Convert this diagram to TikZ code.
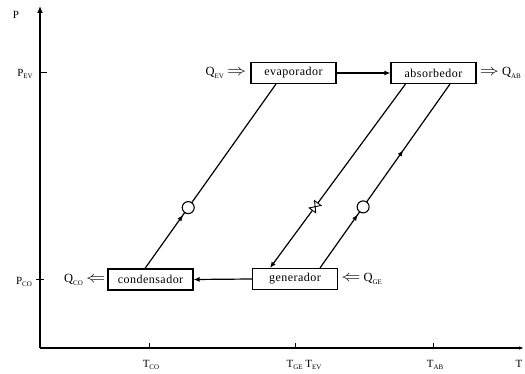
\documentclass[tikz,border=0pt]{standalone}
\usepackage{fontspec}
\setmainfont{Liberation Serif}
\usetikzlibrary{arrows.meta,decorations.markings,calc}
\newcommand{\lowsub}[1]{\raisebox{-0.5ex}{\fontsize{7}{7}\selectfont #1}}
\newcommand{\bigR}{\scalebox{1.6}[1.3]{$\Rightarrow$}}
\newcommand{\bigL}{\scalebox{1.6}[1.3]{$\Leftarrow$}}
\begin{document}
\begin{tikzpicture}[x=1pt,y=-1pt,
  comp/.style={draw, line width=1.1pt, minimum width=85pt, minimum height=21pt, inner sep=0pt,
    font=\fontsize{12}{13}\selectfont\addfontfeatures{LetterSpace=4}},
  flow/.style={line width=1.2pt},
  lbl/.style={inner sep=0pt, font=\fontsize{12.5}{13}\selectfont},
  axlbl/.style={inner sep=0pt, font=\fontsize{11}{12}\selectfont},
  pump/.style={circle, draw, fill=white, line width=1.1pt, minimum size=12pt, inner sep=0pt},
  tipA/.tip={Latex[length=6pt,width=5pt]}]
\useasboundingbox (0,0) rectangle (525,374);

% axes
\coordinate (O) at (40,348);
\coordinate (ytop) at (40,6);
\coordinate (xend) at (524,348);
\draw[line width=1.3pt, -{Latex[length=7pt,width=6pt]}] (O) -- (ytop);
\draw[line width=1.2pt, -{Latex[length=5pt,width=3.5pt]}] (O) -- (xend);
\draw[line width=1pt] (40,73) -- (47,73);
\draw[line width=1pt] (36,280) -- (44,280);
\draw[line width=0.8pt] (149,348) -- (149,343);
\draw[line width=0.8pt] (295,348) -- (295,343);
\draw[line width=0.8pt] (433,348) -- (433,343);

\node[axlbl] (lP) at (16,15) {P};
\node[axlbl] (lPEV) at (25,74) {P\lowsub{EV}};
\node[axlbl] (lPCO) at (24,282) {P\lowsub{CO}};
\node[axlbl] (lTCO) at (151,365) {T\lowsub{CO}};
\node[axlbl] (lTGE) at (304,365) {T\lowsub{GE} T\lowsub{EV}};
\node[axlbl] (lTAB) at (435,365) {T\lowsub{AB}};
\node[axlbl] (lT) at (519,364) {T};

% components
\node[comp] (evap) at (293.5,73) {evaporador};
\node[comp] (abs) at (433.5,73) {absorbedor};
\node[comp] (cond) at (150.5,279.5) {condensador};
\node[comp] (gen) at (295,279) {generador};

% heat flows
\node[lbl, anchor=east] (qev) at ($(evap.west)+(-4,0)$) {Q\lowsub{EV} \bigR};
\node[lbl, anchor=west] (qab) at ($(abs.east)+(3,0)$) {\bigR\ Q\lowsub{AB}};
\node[lbl, anchor=east] (qco) at ($(cond.west)+(-2,0)$) {Q\lowsub{CO} \bigL};
\node[lbl, anchor=west] (qge) at ($(gen.east)+(3,0)$) {\bigL\ Q\lowsub{GE}};

% horizontal connectors
\draw[flow, -tipA] (evap.east) -- (abs.west);
\draw[flow, -tipA] (gen.west) -- (cond.east);

% line 1: condensador -> evaporador with pump
\draw[flow, postaction={decorate}, decoration={markings,
    mark=at position 0.29 with {\arrow{tipA}}}]
  ($(cond.north)+(-5.5,0)$) -- ($(evap.south)+(-17.5,0)$)
  node[pump, pos=0.33] (p1) {};

% line 2: absorbedor -> generador with valve
\draw[flow, -tipA, postaction={decorate}, decoration={markings,
    mark=at position 0.667 with {\draw[line width=0.9pt, fill=white] (-4.5,-4) -- (-4.5,4) -- (4.5,-4) -- (4.5,4) -- cycle;}}]
  ($(abs.south)+(-28,0)$) -- ($(gen.north)+(-25,0)$);

% line 3: generador -> absorbedor with pump
\draw[flow, postaction={decorate}, decoration={markings,
    mark=at position 0.29 with {\arrow{tipA}},
    mark=at position 0.64 with {\arrow{tipA}}}]
  ($(gen.north)+(25,0)$) -- ($(abs.south)+(16.5,0)$)
  node[pump, pos=0.332] (p2) {};
\end{tikzpicture}
\end{document}
